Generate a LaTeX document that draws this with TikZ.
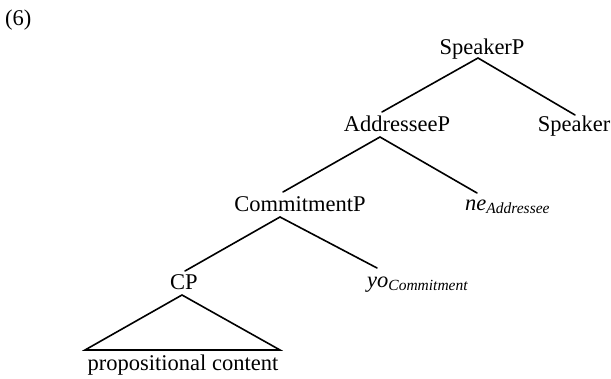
\documentclass[tikz,border=0pt]{standalone}
\usepackage{fontspec}
\setmainfont{Liberation Serif}
\begin{document}
\begin{tikzpicture}[x=1pt,y=-1pt,
  lbl/.style={inner sep=0pt, anchor=base, font=\fontsize{22.5}{27}\selectfont},
  lblw/.style={inner sep=0pt, anchor=base west, font=\fontsize{22.5}{27}\selectfont},
  branch/.style={line width=1.6pt, line cap=round, line join=miter}]
\useasboundingbox (0,0) rectangle (611,379);
\newcommand{\subtext}[1]{\raisebox{-3pt}{\fontsize{15.5}{18}\selectfont\itshape #1}}
% labels
\node[lblw] (ex) at (5,26) {(6)};
\node[lbl] (speakerP) at (482,55) {SpeakerP};
\node[lbl] (addresseeP) at (397,132) {AddresseeP};
\node[lbl] (speaker) at (574,132) {Speaker};
\node[lbl] (commitmentP) at (300,212) {CommitmentP};
\node[lblw] (ne) at (465,211) {\textit{ne}\subtext{Addressee}};
\node[lbl] (cp) at (184,290) {CP};
\node[lblw] (yo) at (367,288) {\textit{yo}\subtext{Commitment}};
\node[lbl] (content) at (183,371) {propositional content};
% branch points
\coordinate (sP-top) at (478,58);
\coordinate (aP-up) at (382,112);
\coordinate (sp-up) at (575,115);
\coordinate (aP-top) at (380,137);
\coordinate (cP-up) at (283,192);
\coordinate (ne-up) at (477,193);
\coordinate (cP-top) at (280,217);
\coordinate (cp-up) at (185,271);
\coordinate (yo-up) at (377,268);
\coordinate (cp-top) at (182,295);
\coordinate (tri-l) at (85,350);
\coordinate (tri-r) at (280,350);
% branches
\draw[branch] (aP-up) -- (sP-top) -- (sp-up);
\draw[branch] (cP-up) -- (aP-top) -- (ne-up);
\draw[branch] (cp-up) -- (cP-top) -- (yo-up);
\draw[branch] (cp-top) -- (tri-l) -- (tri-r) -- cycle;
\end{tikzpicture}
\end{document}
